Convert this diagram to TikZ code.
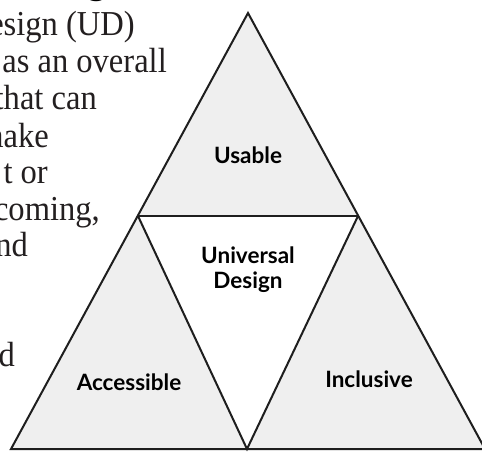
\documentclass[tikz,border=0pt]{standalone}
\usepackage{fontspec}
\setmainfont{Liberation Serif}[FakeStretch=0.93]
\newfontfamily\labelfont{Lato}[BoldFont={Lato Bold}]
\definecolor{facegray}{HTML}{EFEFEF}
\definecolor{edgecol}{HTML}{1E1E1E}
\definecolor{textcol}{HTML}{231F20}
\tikzset{
  edge/.style={draw=edgecol, line width=2pt, line join=miter},
  lbl/.style={font=\labelfont\bfseries\fontsize{22.5}{25}\selectfont, text=black, align=center, inner sep=0pt},
  para/.style={font=\fontsize{35}{37}\selectfont, text=textcol, anchor=base east, inner sep=0pt}
}
\begin{document}
\begin{tikzpicture}[x=1pt,y=-1pt]
\useasboundingbox (0,0) rectangle (482,451);
\clip (0,0) rectangle (482,451);
% cut-off heading and paragraph
\node[font=\labelfont\bfseries\fontsize{40}{40}\selectfont, anchor=base west, inner sep=0pt] (head) at (86,-6) {g};
\node[para] (l1) at (135,35) {Design (UD)};
\node[para] (l2) at (167,72) {as an overall};
\node[para] (l3) at (97,109) {that can};
\node[para] (l4) at (49,147) {make};
\node[para] (l5) at (48,183) {t or};
\node[para] (l6) at (100,220) {coming,};
\node[para] (l7) at (28,256) {and};
\node[para] (l8) at (15,366) {d};
% triangles
\coordinate (T) at (248,13);
\coordinate (L) at (11,449);
\coordinate (R) at (485,449);
\coordinate (A) at (138,216);
\coordinate (B) at (358,216);
\coordinate (C) at (247,449);
\fill[facegray] (T) -- (L) -- (R) -- cycle;
\fill[white] (A) -- (B) -- (C) -- cycle;
\draw[edge] (T) -- (L) -- (R) -- cycle;
\draw[edge] (A) -- (B);
\draw[edge] (A) -- (C) -- (B);
% labels
\node[lbl] (usable) at (248,155) {Usable};
\node[lbl] (ud) at (248,270) {Universal\\Design};
\node[lbl] (acc) at (129,382) {Accessible};
\node[lbl] (inc) at (369,379) {Inclusive};
\end{tikzpicture}
\end{document}
